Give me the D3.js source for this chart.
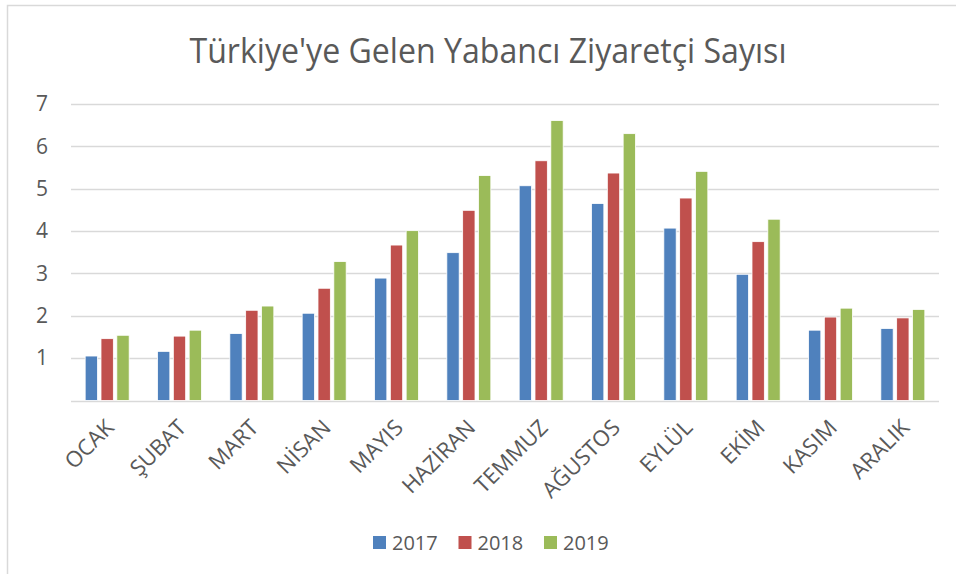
<!DOCTYPE html>
<html>
<head>
<meta charset="utf-8">
<script src="https://cdn.jsdelivr.net/npm/d3@7"></script>
<style>
  body { margin: 0; background: #fff; }
  text { font-family: "Open Sans", "Liberation Sans", sans-serif; fill: #595959; }
</style>
</head>
<body>
<div id="chart"></div>
<script>
const WIDTH = 956;
const HEIGHT = 574;

// data
var MONTHS = ["OCAK", "ŞUBAT", "MART", "NİSAN", "MAYIS", "HAZİRAN",
  "TEMMUZ", "AĞUSTOS", "EYLÜL", "EKİM", "KASIM", "ARALIK"];
var YEARS = ["2017", "2018", "2019"];
var V2017 = [1.05, 1.16, 1.58, 2.06, 2.89, 3.49, 5.07, 4.65, 4.07, 2.98, 1.66, 1.70];
var V2018 = [1.46, 1.52, 2.13, 2.65, 3.67, 4.49, 5.66, 5.37, 4.78, 3.75, 1.97, 1.95];
var V2019 = [1.54, 1.66, 2.23, 3.28, 4.01, 5.31, 6.61, 6.30, 5.41, 4.28, 2.18, 2.15];
var Y_TICKS = [1, 2, 3, 4, 5, 6, 7];
var COLORS = ["#4F81BD", "#C0504D", "#9BBB59"];

var SERIES = [V2017, V2018, V2019];

var svg = d3.select("#chart").append("svg")
  .attr("width", WIDTH)
  .attr("height", HEIGHT);

// chart frame
svg.append("rect")
  .attr("x", 7.5).attr("y", 5.5)
  .attr("width", WIDTH + 20).attr("height", HEIGHT + 20)
  .attr("fill", "#fff")
  .attr("stroke", "#d9d9d9")
  .attr("stroke-width", 1.5);

// title
svg.append("text")
  .attr("x", 488)
  .attr("y", 63)
  .attr("text-anchor", "middle")
  .attr("textLength", 597)
  .attr("lengthAdjust", "spacingAndGlyphs")
  .style("font-size", "35px")
  .text("Türkiye'ye Gelen Yabancı Ziyaretçi Sayısı");

var xScale = d3.scaleBand()
  .domain(MONTHS)
  .range([71, 939]);

var yScale = d3.scaleLinear()
  .domain([0, 7])
  .range([400.5, 104]);

var inner = d3.scaleBand()
  .domain(YEARS)
  .range([-22, 22])
  .paddingInner(0.22);

//gridlines
svg.append("g")
  .selectAll("line")
  .data([0].concat(Y_TICKS))
  .enter()
  .append("line")
  .attr("x1", 71).attr("x2", 939)
  .attr("y1", (d) => Math.round(yScale(d)) + 0.5)
  .attr("y2", (d) => Math.round(yScale(d)) + 0.5)
  .attr("stroke", "#d9d9d9")
  .attr("stroke-width", 1.5);

// y labels
var yAxis = d3.axisLeft(yScale).tickValues(Y_TICKS).tickFormat(d3.format("d"))
  .tickSize(0).tickPadding(0);
var gy = svg.append("g")
  .attr("transform", "translate(48,0)")
  .call(yAxis);
gy.select(".domain").remove();
gy.selectAll("text")
  .style("font-size", "21px")
  .attr("fill", "#595959");

// bars
var groups = svg.append("g")
  .selectAll("g")
  .data(MONTHS)
  .enter()
  .append("g")
  .attr("transform", (d) => "translate(" + (xScale(d) + xScale.bandwidth() / 2) + ",0)");

groups.selectAll("rect")
  .data((m, i) => YEARS.map((y, j) => ({ year: y, value: SERIES[j][i], color: COLORS[j] })))
  .enter()
  .append("rect")
  .attr("x", (d) => inner(d.year))
  .attr("width", inner.bandwidth())
  .attr("y", (d) => yScale(d.value))
  .attr("height", (d) => yScale(0) - yScale(d.value))
  .attr("fill", (d) => d.color)
  .attr("stroke", "#fff")
  .attr("stroke-width", 0.8);

// x labels
var xAxis = d3.axisBottom(xScale).tickSize(0).tickPadding(0);
var gx = svg.append("g")
  .attr("transform", "translate(0,400)")
  .call(xAxis);
gx.select(".domain").remove();
gx.selectAll("text")
  .style("font-size", "22px")
  .attr("fill", "#595959")
  .attr("text-anchor", "end")
  .attr("dy", 0)
  .attr("transform", "translate(8,29) rotate(-45)");

// legend
var legend = svg.append("g")
  .selectAll("g")
  .data(YEARS)
  .enter()
  .append("g")
  .attr("transform", (d, i) => "translate(" + (373 + i * 85.5) + ",536)");

legend.append("rect")
  .attr("width", 13).attr("height", 13)
  .attr("fill", (d, i) => COLORS[i]);

legend.append("text")
  .attr("x", 19)
  .attr("y", 14)
  .style("font-size", "20px")
  .text((d) => d);
</script>
</body>
</html>
